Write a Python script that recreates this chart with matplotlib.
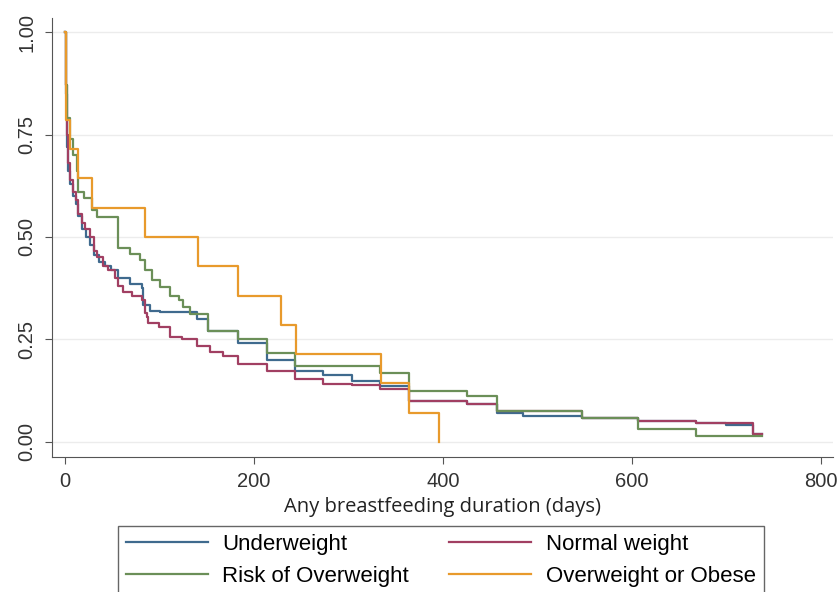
import matplotlib.pyplot as plt

# Kaplan-Meier survival of breastfeeding by weight group (step points)
under_days = [0, 1, 2, 3, 5, 8, 11, 14, 18, 22, 26, 30, 36, 42, 48, 56, 69, 81,
              82, 90, 100, 140, 151, 183, 214, 243, 273, 304, 333, 364, 395,
              425, 457, 485, 547, 606, 668, 700, 728, 738]
under_surv = [1.0, 0.85, 0.72, 0.66, 0.63, 0.60, 0.58, 0.55, 0.52, 0.50, 0.48,
              0.455, 0.44, 0.43, 0.42, 0.40, 0.385, 0.375, 0.333, 0.32, 0.316,
              0.30, 0.27, 0.242, 0.20, 0.174, 0.163, 0.149, 0.137, 0.10, 0.10,
              0.093, 0.07, 0.064, 0.059, 0.051, 0.046, 0.04, 0.02, 0.02]

normal_days = [0, 1, 2, 3, 5, 8, 11, 14, 18, 21, 26, 30, 34, 40, 45, 53, 56,
               61, 71, 81, 84, 87, 88, 99, 111, 124, 140, 153, 167, 183, 214,
               243, 273, 304, 333, 364, 425, 457, 547, 606, 668, 728, 738]
normal_surv = [1.0, 0.87, 0.75, 0.68, 0.64, 0.61, 0.59, 0.557, 0.533, 0.52,
               0.50, 0.466, 0.45, 0.43, 0.42, 0.40, 0.38, 0.365, 0.355, 0.345,
               0.315, 0.305, 0.29, 0.28, 0.255, 0.25, 0.235, 0.22, 0.21, 0.19,
               0.174, 0.154, 0.142, 0.138, 0.13, 0.10, 0.093, 0.076, 0.059,
               0.051, 0.046, 0.02, 0.02]

risk_days = [0, 1, 2, 5, 8, 12, 14, 20, 28, 34, 56, 69, 79, 84, 92, 100, 111,
             120, 125, 132, 151, 183, 214, 243, 333, 364, 425, 457, 547, 606,
             668, 738]
risk_surv = [1.0, 0.87, 0.79, 0.74, 0.70, 0.66, 0.61, 0.594, 0.565, 0.548,
             0.472, 0.459, 0.443, 0.42, 0.394, 0.377, 0.357, 0.345, 0.328,
             0.313, 0.27, 0.25, 0.218, 0.185, 0.169, 0.125, 0.112, 0.076,
             0.059, 0.032, 0.015, 0.015]

obese_days = [0, 1, 5, 14, 28, 84, 141, 183, 228, 244, 334, 364, 396]
obese_surv = [1.0, 0.786, 0.714, 0.643, 0.571, 0.50, 0.429, 0.357, 0.286,
              0.214, 0.143, 0.071, 0.0]

labels = ['Underweight', 'Normal weight', 'Risk of Overweight',
          'Overweight or Obese']
colors = ['#3f6a8e', '#a13f62', '#6b8f58', '#e89a2c']

plt.rcParams['font.family'] = ['Liberation Sans', 'DejaVu Sans']

fig = plt.figure(figsize=(8.39, 5.92), dpi=100)
ax = fig.add_axes([0.062, 0.228, 0.931, 0.742])

series = [(under_days, under_surv), (normal_days, normal_surv),
          (risk_days, risk_surv), (obese_days, obese_surv)]
lines = []
for (d, s), lab, c in zip(series, labels, colors):
    ln, = ax.step(d, s, where='post', color=c, lw=1.6, label=lab)
    lines.append(ln)

ax.set_xlim(-14, 813)
ax.set_ylim(-0.037, 1.035)
ax.set_xticks([0, 200, 400, 600, 800])
ax.set_yticks([0.0, 0.25, 0.5, 0.75, 1.0])
ax.set_yticklabels(['0.00', '0.25', '0.50', '0.75', '1.00'],
                   rotation=90, va='center')
ax.tick_params(labelsize=14.5, length=5, pad=6, color='#555555',
               labelcolor='#333333')
ax.yaxis.grid(True, color='#ececec', lw=1)
ax.set_axisbelow(True)
for side in ['top', 'right']:
    ax.spines[side].set_visible(False)
for side in ['left', 'bottom']:
    ax.spines[side].set_color('#555555')

ax.set_xlabel('Any breastfeeding duration (days)',
              family=['Open Sans', 'DejaVu Sans'],
              fontsize=14.5, color='#222222', labelpad=4)

# legend is filled by columns, so order entries to read across rows
order = [0, 2, 1, 3]
fig.legend([lines[i] for i in order], [labels[i] for i in order],
           loc='upper left', bbox_to_anchor=(118 / 839, 1 - 526 / 592),
           borderaxespad=0, ncol=2, fontsize=16, handlelength=3.7,
           handletextpad=0.65, columnspacing=1.8, labelspacing=0.5,
           fancybox=False, edgecolor='#666666', framealpha=1, borderpad=0.35)

fig.savefig('out.png', dpi=100)
